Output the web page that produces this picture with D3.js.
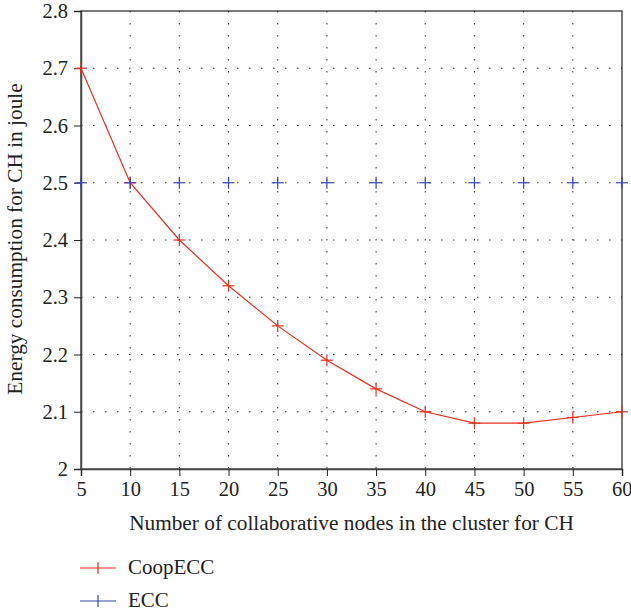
<!DOCTYPE html>
<html>
<head>
  <meta charset="utf-8">
  <title>Energy consumption for CH</title>
  <script src="https://d3js.org/d3.v7.min.js"></script>
  <style>
    body { margin: 0; background: #fff; }
    svg text { font-family: 'Liberation Serif', 'DejaVu Serif', 'Times New Roman', serif !important; fill: #222; }
  </style>
</head>
<body>
  <script>
    var nodes = [5, 10, 15, 20, 25, 30, 35, 40, 45, 50, 55, 60];
    var coopEcc = [2.7, 2.5, 2.4, 2.32, 2.25, 2.19, 2.14, 2.1, 2.08, 2.08, 2.09, 2.1];
    var ecc = [2.5, 2.5, 2.5, 2.5, 2.5, 2.5, 2.5, 2.5, 2.5, 2.5, 2.5, 2.5];
    var yTicks = [2, 2.1, 2.2, 2.3, 2.4, 2.5, 2.6, 2.7, 2.8];
    var seriesNames = ['CoopECC', 'ECC'];
    var seriesColors = ['#e5301f', '#3b44b4'];

    var width = 631, height = 612;
    var margin = { top: 11, right: 9, bottom: 143, left: 81 };
    var w = width - margin.left - margin.right;
    var h = height - margin.top - margin.bottom;

    var svg = d3.select('body').append('svg')
      .attr('width', width)
      .attr('height', height);
    var g = svg.append('g')
      .attr('transform', 'translate(' + margin.left + ',' + margin.top + ')');

    var x = d3.scaleLinear().domain([5, 60]).range([0, w]);
    var y = d3.scaleLinear().domain([2, 2.8]).range([h, 0]);

    // dotted grid
    g.append('g').selectAll('line.vg')
      .data(nodes.slice(1, -1))
      .enter().append('line')
      .attr('x1', function(d) { return x(d); })
      .attr('x2', function(d) { return x(d); })
      .attr('y1', 0).attr('y2', h)
      .attr('stroke', '#333').attr('stroke-width', 1)
      .attr('stroke-dasharray', '1.5,10.5');
    g.append('g').selectAll('line.hg')
      .data(yTicks.slice(1, -1))
      .enter().append('line')
      .attr('y1', function(d) { return y(d); })
      .attr('y2', function(d) { return y(d); })
      .attr('x1', 0).attr('x2', w)
      .attr('stroke', '#333').attr('stroke-width', 1)
      .attr('stroke-dasharray', '1.5,10.5');

    // frame
    g.append('rect')
      .attr('width', w).attr('height', h)
      .attr('fill', 'none').attr('stroke', '#222').attr('stroke-width', 1.2);

    var xAxis = g.append('g')
      .attr('transform', 'translate(0,' + h + ')')
      .call(d3.axisBottom(x).tickValues(nodes).tickSize(7).tickPadding(5).tickFormat(d3.format('d')));
    var yAxis = g.append('g')
      .call(d3.axisLeft(y).tickValues(yTicks).tickSize(7).tickPadding(6).tickFormat(function(d) { return d3.format('.2~f')(d); }));
    [xAxis, yAxis].forEach(function(a) {
      a.attr('font-family', null).attr('font-size', null);
      a.select('.domain').attr('stroke', '#444').attr('stroke-width', 1.5);
      a.selectAll('.tick line').attr('stroke', '#222');
      a.selectAll('.tick text').style('font-size', '20.5px').attr('fill', '#222');
    });
    // keep the last x tick label inside the page
    xAxis.selectAll('.tick text').filter(function(d) { return d === 60; })
      .attr('text-anchor', 'end').attr('dx', 10);

    var line = d3.line()
      .x(function(d, i) { return x(nodes[i]); })
      .y(function(d) { return y(d); });

    var series = [coopEcc, ecc];
    series.forEach(function(vals, si) {
      var col = seriesColors[si];
      if (si === 0) {
        g.append('path').datum(vals)
          .attr('d', line)
          .attr('fill', 'none').attr('stroke', col).attr('stroke-width', 1.2);
      }
      var m = g.append('g').selectAll('g.m')
        .data(vals).enter().append('g')
        .attr('transform', function(d, i) { return 'translate(' + x(nodes[i]) + ',' + y(d) + ')'; });
      m.append('line').attr('x1', -6).attr('x2', 6).attr('stroke', col).attr('stroke-width', 1.2);
      m.append('line').attr('y1', -6).attr('y2', 6).attr('stroke', col).attr('stroke-width', 1.2);
    });

    // axis labels
    svg.append('text')
      .attr('x', margin.left + w / 2).attr('y', 530)
      .attr('text-anchor', 'middle')
      .style('font-size', '21.3px')
      .text('Number of collaborative nodes in the cluster for CH');
    svg.append('text')
      .attr('transform', 'translate(22,239) rotate(-90)')
      .attr('text-anchor', 'middle')
      .style('font-size', '21.3px')
      .text('Energy consumption for CH in joule');

    // legend
    var legend = svg.append('g').attr('transform', 'translate(80,568)');
    seriesNames.forEach(function(name, i) {
      var lg = legend.append('g').attr('transform', 'translate(0,' + (i * 33) + ')');
      lg.append('line').attr('x1', 0).attr('x2', 36)
        .attr('stroke', seriesColors[i]).attr('stroke-width', 1.2);
      lg.append('line').attr('x1', 18).attr('x2', 18).attr('y1', -6).attr('y2', 6)
        .attr('stroke', seriesColors[i]).attr('stroke-width', 1.2);
      lg.append('text').attr('x', 48).attr('y', 6)
        .style('font-size', '21px')
        .text(name);
    });
  </script>
</body>
</html>
